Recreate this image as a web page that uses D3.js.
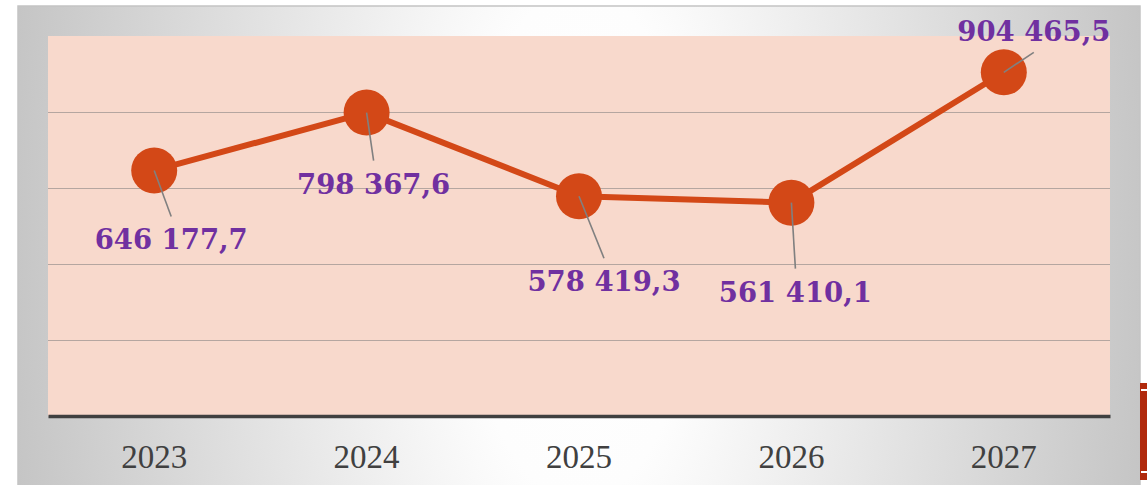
<!DOCTYPE html>
<html>
<head>
<meta charset="utf-8">
<script src="https://cdn.jsdelivr.net/npm/d3@7"></script>
<style>
  html, body { margin: 0; padding: 0; background: #fff; }
  svg { display: block; }
</style>
</head>
<body>
<svg id="chart" width="1147" height="485"></svg>
<script>
// data
const years = ['2023', '2024', '2025', '2026', '2027'];
const values = [646177.7, 798367.6, 578419.3, 561410.1, 904465.5];
const yTicks = [0, 200000, 400000, 600000, 800000, 1000000];

// label placement (offset of label anchor from point, px)
const labelDx = [17, 7, 25, 4, 30];
const labelDy = [79, 81, 95, 99, -31];

const frame = {x: 18, y: 6, w: 1122, h: 490};
const plot = {left: 48, top: 36, right: 1110, bottom: 416};

const svg = d3.select('#chart');
const defs = svg.append('defs');

// soft light band across the middle, grey at the sides
const grad = defs.append('radialGradient')
  .attr('id', 'bg')
  .attr('gradientUnits', 'userSpaceOnUse')
  .attr('cx', 580).attr('cy', 245).attr('r', 580)
  .attr('gradientTransform', 'translate(580,245) scale(1,2.2) translate(-580,-245)');
grad.append('stop').attr('offset', '0%').attr('stop-color', '#ffffff');
grad.append('stop').attr('offset', '20%').attr('stop-color', '#fdfdfd');
grad.append('stop').attr('offset', '100%').attr('stop-color', '#c4c4c4');

// frame
svg.append('rect')
  .attr('x', frame.x).attr('y', frame.y)
  .attr('width', frame.w).attr('height', frame.h)
  .attr('fill', 'url(#bg)')
  .attr('stroke', '#c4c4c4').attr('stroke-width', 1.5);

// red piece at right edge
svg.append('rect').attr('x', 1140).attr('y', 383).attr('width', 7).attr('height', 97).attr('fill', '#b0290c');
svg.append('rect').attr('x', 1141).attr('y', 389).attr('width', 6).attr('height', 2).attr('fill', '#fff');
svg.append('rect').attr('x', 1141).attr('y', 471).attr('width', 6).attr('height', 2).attr('fill', '#fff');

// plot area
svg.append('rect')
  .attr('x', plot.left).attr('y', plot.top)
  .attr('width', plot.right - plot.left).attr('height', plot.bottom - plot.top)
  .attr('fill', '#f8d9cc');

const x = d3.scaleBand().domain(years).range([plot.left, plot.right]);
const y = d3.scaleLinear().domain([0, 1000000]).range([plot.bottom, plot.top]);
const cx = d => x(d) + x.bandwidth() / 2;

// gridlines
svg.append('g')
  .selectAll('line')
  .data(yTicks.slice(1, -1))
  .join('line')
  .attr('x1', plot.left).attr('x2', plot.right)
  .attr('y1', d => Math.round(y(d)) + 0.5).attr('y2', d => Math.round(y(d)) + 0.5)
  .attr('stroke', '#b5a6a0').attr('stroke-width', 1.2);

// x axis
const xAxis = svg.append('g')
  .attr('transform', `translate(0,${plot.bottom})`)
  .call(d3.axisBottom(x).tickSize(0).tickPadding(29));
xAxis.select('.domain').attr('stroke', '#404040').attr('stroke-width', 3.5);
xAxis.selectAll('text')
  .attr('font-family', '"Liberation Serif", serif')
  .attr('font-size', 33)
  .attr('fill', '#404040');

const pts = years.map((yr, i) => ({yr, v: values[i], i}));

// line
svg.append('path')
  .datum(pts)
  .attr('fill', 'none')
  .attr('stroke', '#d34817')
  .attr('stroke-width', 6)
  .attr('stroke-linejoin', 'round')
  .attr('d', d3.line().x(d => cx(d.yr)).y(d => y(d.v)));

// markers
svg.append('g')
  .selectAll('circle')
  .data(pts)
  .join('circle')
  .attr('cx', d => cx(d.yr)).attr('cy', d => y(d.v))
  .attr('r', 23)
  .attr('fill', '#d34817');

// leader lines
svg.append('g')
  .selectAll('line')
  .data(pts)
  .join('line')
  .attr('x1', d => cx(d.yr)).attr('y1', d => y(d.v))
  .attr('x2', d => cx(d.yr) + labelDx[d.i])
  .attr('y2', d => y(d.v) + (labelDy[d.i] > 0 ? labelDy[d.i] - 33 : labelDy[d.i] + 11))
  .attr('stroke', '#808080').attr('stroke-width', 1.6);

// labels
const fmt = v => {
  const [int, dec] = v.toFixed(1).split('.');
  return int.replace(/\B(?=(\d{3})+(?!\d))/g, ' ') + ',' + dec;
};
svg.append('g')
  .selectAll('text')
  .data(pts)
  .join('text')
  .attr('x', d => cx(d.yr) + labelDx[d.i])
  .attr('y', d => y(d.v) + labelDy[d.i])
  .attr('text-anchor', 'middle')
  .attr('font-family', '"DejaVu Serif", serif')
  .attr('font-weight', 'bold')
  .attr('font-size', 27.5)
  .attr('fill', '#7030a0')
  .text(d => fmt(d.v));
</script>
</body>
</html>
